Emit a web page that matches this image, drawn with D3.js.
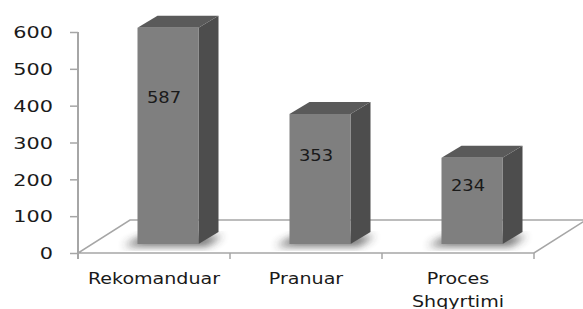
<!DOCTYPE html>
<meta charset="utf-8">
<html>
<head>
  <script src="https://cdn.jsdelivr.net/npm/d3@7"></script>
  <style>
    body { margin: 0; background: #fff; }
    text { font-family: "DejaVu Sans", sans-serif; fill: #1a1a1a; }
  </style>
</head>
<body>
  <svg id="svg" width="583" height="309"></svg>
  <script>
    var categories = ["Rekomanduar", "Pranuar", "Proces Shqyrtimi"];
    var values = [587, 353, 234];
    var ticks = [0, 100, 200, 300, 400, 500, 600];

    var svg = d3.select("#svg");

    // front edge of the floor and the y axis
    var x = d3.scaleBand().domain(categories).range([78, 534]);
    var y = d3.scaleLinear().domain([0, 600]).range([253, 32]);

    // 3d depth of the floor, and where bars sit in it
    var depth = [52, -33];
    var barShift = [14, -9];
    var barDepth = [20, -12];
    var barW = 61;

    var defs = svg.append("defs");
    defs.append("filter").attr("id", "blur")
      .attr("x", "-50%").attr("y", "-50%").attr("width", "200%").attr("height", "200%")
      .append("feGaussianBlur").attr("stdDeviation", 4);

    // floor
    var x0 = x.range()[0], x1 = x.range()[1], yb = y(0);
    svg.append("path")
      .attr("d", "M" + x0 + "," + yb + "L" + x1 + "," + yb +
        "L" + (x1 + depth[0]) + "," + (yb + depth[1]) +
        "L" + (x0 + depth[0]) + "," + (yb + depth[1]) + "Z")
      .attr("fill", "#fff")
      .attr("stroke", "#a6a6a6")
      .attr("stroke-width", 1.5);

    // category tick marks on the floor's front edge
    svg.selectAll(".ctick")
      .data(categories.map(function (c) { return x(c); }).concat([x1]))
      .enter().append("line")
      .attr("x1", function (d) { return d; })
      .attr("x2", function (d) { return d; })
      .attr("y1", yb).attr("y2", yb + 6)
      .attr("stroke", "#a6a6a6").attr("stroke-width", 1.5);

    // y axis
    var axis = svg.append("g").attr("transform", "translate(" + x0 + ",0)")
      .call(d3.axisLeft(y).tickValues(ticks).tickSize(8).tickPadding(17).tickSizeOuter(0));
    axis.select(".domain").attr("stroke", "#a6a6a6").attr("stroke-width", 2)
      .attr("d", "M0," + y(600) + "V" + (yb + 6));
    axis.selectAll(".tick line").attr("stroke", "#a6a6a6").attr("stroke-width", 1.5);
    axis.selectAll(".tick text")
      .attr("font-size", 16)
      .attr("fill", "#1a1a1a")
      .attr("font-family", "DejaVu Sans, sans-serif")
      .attr("dy", "0.36em")
      .each(function () {
        var t = d3.select(this);
        var xx = +t.attr("x");
        t.attr("x", null).attr("transform", "translate(" + xx + ",0) scale(1.3,1)");
      });

    var bars = svg.selectAll(".bar")
      .data(categories)
      .enter().append("g")
      .attr("class", "bar");

    function fx(c) { return x(c) + x.bandwidth() / 2 - barW / 2 + barShift[0]; }
    function fb() { return y(0) + barShift[1]; }
    function ft(i) { return y(values[i]) + barShift[1]; }

    // soft shadow on the floor
    bars.append("path")
      .attr("d", function (c, i) {
        var l = fx(c), b = fb();
        return "M" + (l - 14) + "," + (b + 2) + "L" + (l + barW + 8) + "," + (b + 2) +
          "L" + (l + barW + 24) + "," + (b - 8) + "L" + (l + 6) + "," + (b - 8) + "Z";
      })
      .attr("fill", "#333")
      .attr("opacity", 0.75)
      .attr("filter", "url(#blur)");

    // right side
    bars.append("path")
      .attr("d", function (c, i) {
        var r = fx(c) + barW, b = fb(), t = ft(i);
        return "M" + r + "," + b + "L" + r + "," + t +
          "L" + (r + barDepth[0]) + "," + (t + barDepth[1]) +
          "L" + (r + barDepth[0]) + "," + (b + barDepth[1]) + "Z";
      })
      .attr("fill", "#4d4d4d");

    // top
    bars.append("path")
      .attr("d", function (c, i) {
        var l = fx(c), t = ft(i);
        return "M" + l + "," + t + "L" + (l + barW) + "," + t +
          "L" + (l + barW + barDepth[0]) + "," + (t + barDepth[1]) +
          "L" + (l + barDepth[0]) + "," + (t + barDepth[1]) + "Z";
      })
      .attr("fill", "#5a5a5a");

    // front
    bars.append("rect")
      .attr("x", function (c) { return fx(c); })
      .attr("y", function (c, i) { return ft(i); })
      .attr("width", barW)
      .attr("height", function (c, i) { return fb() - ft(i); })
      .attr("fill", "#7f7f7f");

    // value labels
    bars.append("text")
      .attr("transform", function (c, i) {
        return "translate(" + (fx(c) + barW / 2 - 4) + "," + (y(values[i] * 0.68) + barShift[1]) + ") scale(1.12,1)";
      })
      .attr("text-anchor", "middle")
      .attr("dy", "0.36em")
      .attr("font-size", 16)
      .text(function (c, i) { return values[i]; });

    // category labels
    svg.selectAll(".clabel")
      .data(categories)
      .enter().append("text")
      .attr("class", "clabel")
      .attr("text-anchor", "middle")
      .attr("font-size", 15.5)
      .attr("transform", function (c) {
        return "translate(" + (x(c) + x.bandwidth() / 2) + "," + (yb + 31) + ") scale(1.23,1)";
      })
      .each(function (c) {
        var t = d3.select(this);
        c.split(" ").forEach(function (w, k) {
          t.append("tspan").attr("x", 0).attr("dy", k ? 23 : 0).text(w);
        });
      });
  </script>
</body>
</html>
